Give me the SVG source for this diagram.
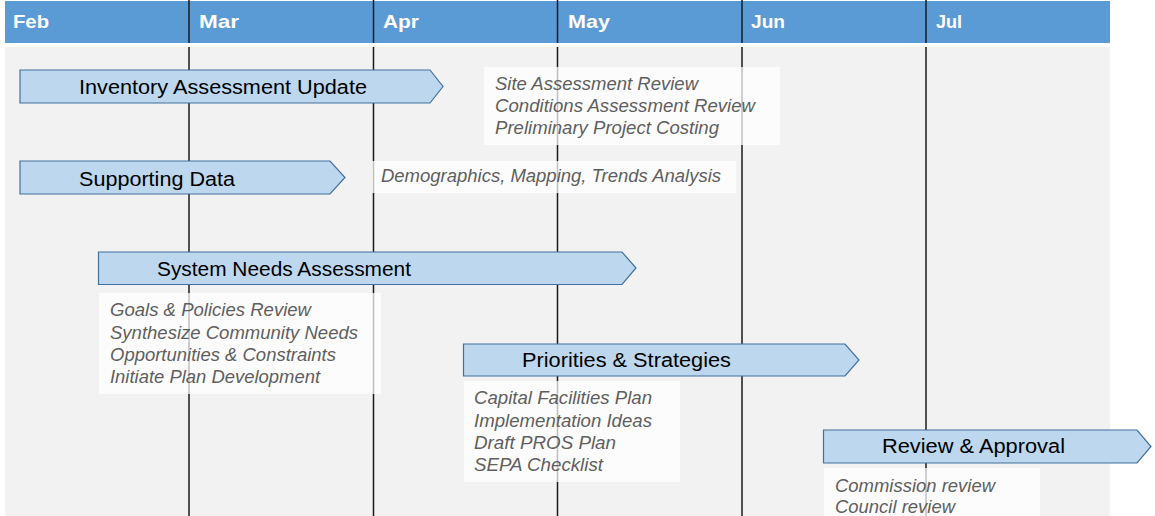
<svg xmlns="http://www.w3.org/2000/svg" width="1155" height="516" viewBox="0 0 1155 516">
<style>
.hdr{fill:#5B9BD5}
.bg{fill:#F2F2F2}
.vl{stroke:#1a1a1a;stroke-width:1.5}
.mon{font-family:"Liberation Sans",Arial,sans-serif;font-weight:bold;font-size:19px;fill:#FFFFFF}
.bar{fill:#BDD7EE;stroke:#41719C;stroke-width:1.2}
.lbl{font-family:"Liberation Sans",Arial,sans-serif;font-size:19.5px;fill:#000000}
.box{fill:#FFFFFF;fill-opacity:0.72}
.desc{font-family:"Liberation Sans",Arial,sans-serif;font-style:italic;font-size:17.5px;fill:#5F5F5F}
</style>
<rect x="0" y="0" width="1155" height="516" fill="#FFFFFF"/>
<g id="timeline">
<rect class="hdr" x="5" y="1" width="1105" height="42"/>
<rect class="bg" x="5" y="47" width="1105" height="469"/>
<g id="gridlines">
<line class="vl" x1="189" y1="0" x2="189" y2="43"/><line class="vl" x1="189" y1="47" x2="189" y2="516"/>
<line class="vl" x1="373.5" y1="0" x2="373.5" y2="43"/><line class="vl" x1="373.5" y1="47" x2="373.5" y2="516"/>
<line class="vl" x1="557.5" y1="0" x2="557.5" y2="43"/><line class="vl" x1="557.5" y1="47" x2="557.5" y2="516"/>
<line class="vl" x1="742" y1="0" x2="742" y2="43"/><line class="vl" x1="742" y1="47" x2="742" y2="516"/>
<line class="vl" x1="926" y1="0" x2="926" y2="43"/><line class="vl" x1="926" y1="47" x2="926" y2="516"/>
</g>
<g id="months">
<text class="mon" x="13" y="28" textLength="36" lengthAdjust="spacingAndGlyphs">Feb</text>
<text class="mon" x="199" y="28" textLength="40" lengthAdjust="spacingAndGlyphs">Mar</text>
<text class="mon" x="383" y="28" textLength="36" lengthAdjust="spacingAndGlyphs">Apr</text>
<text class="mon" x="568" y="28" textLength="42" lengthAdjust="spacingAndGlyphs">May</text>
<text class="mon" x="751" y="28" textLength="34" lengthAdjust="spacingAndGlyphs">Jun</text>
<text class="mon" x="936" y="28" textLength="26" lengthAdjust="spacingAndGlyphs">Jul</text>
</g>
</g>
<g id="inventory-assessment-update">
<polygon class="bar" points="20,70 430,70 443,86.5 430,103 20,103"/>
<text class="lbl" x="79" y="94" textLength="288" lengthAdjust="spacingAndGlyphs">Inventory Assessment Update</text>
</g>
<g id="inventory-details">
<rect class="box" x="484" y="67" width="296" height="78"/>
<text class="desc" x="495" y="90" textLength="203" lengthAdjust="spacingAndGlyphs">Site Assessment Review</text>
<text class="desc" x="495" y="112" textLength="260" lengthAdjust="spacingAndGlyphs">Conditions Assessment Review</text>
<text class="desc" x="495" y="134" textLength="224" lengthAdjust="spacingAndGlyphs">Preliminary Project Costing</text>
</g>
<g id="supporting-data">
<polygon class="bar" points="20,161 330,161 345,177.5 330,194 20,194"/>
<text class="lbl" x="79" y="186" textLength="156" lengthAdjust="spacingAndGlyphs">Supporting Data</text>
</g>
<g id="supporting-details">
<rect class="box" x="372" y="161" width="364" height="32"/>
<text class="desc" x="381" y="182" textLength="340" lengthAdjust="spacingAndGlyphs">Demographics, Mapping, Trends Analysis</text>
</g>
<g id="system-needs-assessment">
<polygon class="bar" points="98.5,252 622,252 636,268 622,284.5 98.5,284.5"/>
<text class="lbl" x="157" y="276" textLength="254" lengthAdjust="spacingAndGlyphs">System Needs Assessment</text>
</g>
<g id="system-details">
<rect class="box" x="99" y="293" width="282" height="101"/>
<text class="desc" x="110" y="316" textLength="201" lengthAdjust="spacingAndGlyphs">Goals &amp; Policies Review</text>
<text class="desc" x="110" y="339" textLength="248" lengthAdjust="spacingAndGlyphs">Synthesize Community Needs</text>
<text class="desc" x="110" y="361" textLength="226" lengthAdjust="spacingAndGlyphs">Opportunities &amp; Constraints</text>
<text class="desc" x="110" y="383" textLength="210" lengthAdjust="spacingAndGlyphs">Initiate Plan Development</text>
</g>
<g id="priorities-strategies">
<polygon class="bar" points="463.5,344 845,344 859,360 845,376 463.5,376"/>
<text class="lbl" x="522" y="367" textLength="209" lengthAdjust="spacingAndGlyphs">Priorities &amp; Strategies</text>
</g>
<g id="priorities-details">
<rect class="box" x="464" y="381" width="216" height="101"/>
<text class="desc" x="474" y="404" textLength="178" lengthAdjust="spacingAndGlyphs">Capital Facilities Plan</text>
<text class="desc" x="474" y="427" textLength="178" lengthAdjust="spacingAndGlyphs">Implementation Ideas</text>
<text class="desc" x="474" y="449" textLength="142" lengthAdjust="spacingAndGlyphs">Draft PROS Plan</text>
<text class="desc" x="474" y="471" textLength="129" lengthAdjust="spacingAndGlyphs">SEPA Checklist</text>
</g>
<g id="review-approval">
<polygon class="bar" points="823.5,430 1137,430 1151,446.5 1137,463 823.5,463"/>
<text class="lbl" x="882" y="453" textLength="183" lengthAdjust="spacingAndGlyphs">Review &amp; Approval</text>
</g>
<g id="review-details">
<rect class="box" x="824" y="468" width="216" height="48"/>
<text class="desc" x="835" y="492" textLength="160" lengthAdjust="spacingAndGlyphs">Commission review</text>
<text class="desc" x="835" y="513" textLength="120" lengthAdjust="spacingAndGlyphs">Council review</text>
</g>
<g id="connectors"/>
</svg>
